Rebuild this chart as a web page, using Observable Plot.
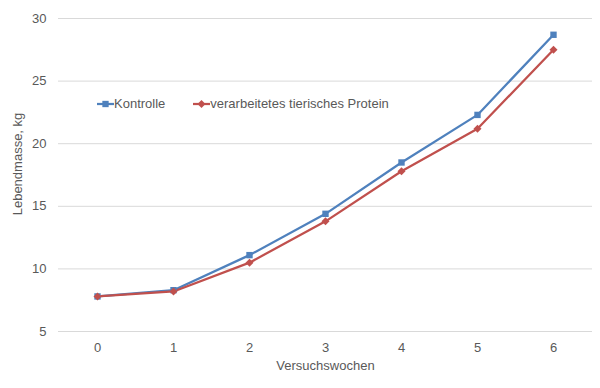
<!DOCTYPE html>
<html><head><meta charset="utf-8">
<script src="https://cdn.jsdelivr.net/npm/d3@7"></script>
<script src="https://cdn.jsdelivr.net/npm/@observablehq/plot@0.6"></script>
<style>
body{margin:0;background:#fff;font-family:"Liberation Sans",Arial,sans-serif;}
#wrap{position:relative;width:600px;height:388px;}
#legend{position:absolute;left:97px;top:96px;font-size:13px;color:#595959;display:flex;align-items:center;white-space:nowrap;}
#legend .item{display:flex;align-items:center;}
#legend svg{display:block;}
</style>
</head><body>
<div id="wrap"><div id="legend"></div></div>
<script>
const weeks = [0, 1, 2, 3, 4, 5, 6];
const kontrolle = [7.8, 8.3, 11.1, 14.4, 18.5, 22.3, 28.7];
const protein = [7.8, 8.2, 10.5, 13.8, 17.8, 21.2, 27.5];
const seriesNames = ["Kontrolle", "verarbeitetes tierisches Protein"];
const seriesColors = ["#4F81BD", "#C0504D"];
const seriesSymbols = ["square", "diamond2"];
const yTicks = [5, 10, 15, 20, 25, 30];
const yTitle = "Lebendmasse, kg";
const xTitle = "Versuchswochen";

const data = [];
weeks.forEach((w, i) => {
  data.push({week: w, value: kontrolle[i], series: seriesNames[0]});
  data.push({week: w, value: protein[i], series: seriesNames[1]});
});

const chart = Plot.plot({
  width: 600,
  height: 388,
  marginLeft: 58,
  marginRight: 8,
  marginTop: 18,
  marginBottom: 57,
  style: {fontFamily: "Liberation Sans, Arial, sans-serif", fontSize: "13px", color: "#595959", background: "white"},
  x: {type: "point", domain: weeks, padding: 0.5, label: null},
  y: {domain: [5, 30], label: null},
  color: {domain: seriesNames, range: seriesColors},
  symbol: {domain: seriesNames, range: seriesSymbols},
  marks: [
    Plot.gridY(yTicks, {stroke: "#d9d9d9", strokeOpacity: 1}),
    Plot.axisY(yTicks, {tickSize: 0, tickPadding: 12, fill: "#595959", label: null}),
    Plot.text([yTitle], {frameAnchor: "left", textAnchor: "middle", rotate: -90, dx: -41, dy: -11, fill: "#595959", fontSize: 13}),
    Plot.axisX(weeks, {tickSize: 0, tickPadding: 11, fill: "#595959", label: xTitle, labelAnchor: "center", labelArrow: "none", labelOffset: 38}),
    Plot.line(data, {x: "week", y: "value", z: "series", stroke: "series", strokeWidth: 2.25}),
    Plot.dot(data, {x: "week", y: "value", symbol: "series", fill: "series", stroke: null, r: 3.6})
  ]
});
document.getElementById("wrap").prepend(chart);

// legend
const legend = document.getElementById("legend");
const sym = {square: d3.symbolSquare, diamond2: d3.symbolDiamond2};
seriesNames.forEach((name, i) => {
  const item = document.createElement("div");
  item.className = "item";
  item.style.marginRight = i === 0 ? "28px" : "0";
  const s = d3.create("svg").attr("width", 17).attr("height", 10);
  s.append("line").attr("x1", 0).attr("x2", 17).attr("y1", 5).attr("y2", 5).attr("stroke", seriesColors[i]).attr("stroke-width", 2.25);
  s.append("path").attr("transform", "translate(8.5,5)").attr("d", d3.symbol(sym[seriesSymbols[i]], 40)()).attr("fill", seriesColors[i]);
  item.appendChild(s.node());
  const t = document.createElement("span");
  t.textContent = name;
  item.appendChild(t);
  legend.appendChild(item);
});
</script>
</body></html>
